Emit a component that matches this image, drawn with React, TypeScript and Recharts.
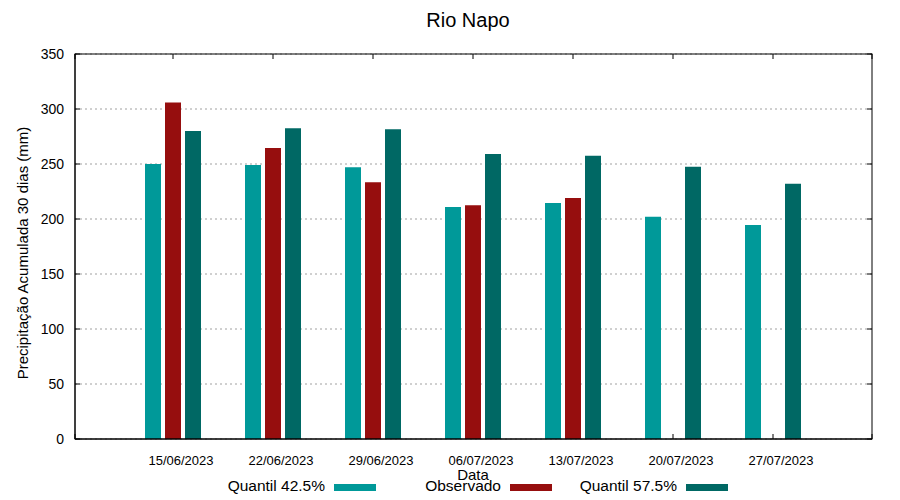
import React from "react";
import { BarChart, Bar, XAxis, YAxis, CartesianGrid } from "recharts";

const DATES = [
  "15/06/2023",
  "22/06/2023",
  "29/06/2023",
  "06/07/2023",
  "13/07/2023",
  "20/07/2023",
  "27/07/2023",
];
const QUANTIL_425 = [250, 249, 247, 211, 214.5, 202, 194.5];
const OBSERVADO = [306, 264.5, 233.5, 212.5, 219, null, null];
const QUANTIL_575 = [280, 282.5, 281.5, 259, 257.5, 247.5, 232];
const Y_TICKS = [0, 50, 100, 150, 200, 250, 300, 350];

const SERIES = [
  { key: "q425", name: "Quantil 42.5%", color: "#009999" },
  { key: "obs", name: "Observado", color: "#960e0e" },
  { key: "q575", name: "Quantil 57.5%", color: "#006864" },
];

const data = DATES.map((d, i) => ({
  date: d,
  q425: QUANTIL_425[i],
  obs: OBSERVADO[i],
  q575: QUANTIL_575[i],
}));

const FONT = "'Liberation Sans', Arial, sans-serif";

// layout, shared by the chart and the plot frame
const W = 900;
const H = 500;
const TOP = 54;
const RIGHT = 28;
const Y_AXIS_W = 75;
const X_AXIS_H = 61;

function BottomTick(props: any) {
  const { x, y, payload } = props;
  return (
    <text x={x + 8} y={y + 26} textAnchor="middle" fontSize={13} fill="#000" fontFamily={FONT}>
      {payload.value}
    </text>
  );
}

function LeftTick(props: any) {
  const { x, y, payload } = props;
  return (
    <text x={x - 11} y={y + 5} textAnchor="end" fontSize={14} fill="#000" fontFamily={FONT}>
      {payload.value}
    </text>
  );
}

// gnuplot-style inward ticks, from the grid's own line positions
const vTick = (p: any) => {
  const top = Math.min(p.y1, p.y2);
  const bottom = Math.max(p.y1, p.y2);
  return (
    <g key={p.key}>
      <line x1={p.x1} y1={top} x2={p.x1} y2={top + 5} stroke="#000" />
      <line x1={p.x1} y1={bottom} x2={p.x1} y2={bottom - 5} stroke="#000" />
    </g>
  );
};

const hTick = (p: any) => {
  const left = Math.min(p.x1, p.x2);
  const right = Math.max(p.x1, p.x2);
  return (
    <g key={p.key}>
      <line x1={left} y1={p.y1} x2={left + 5} y2={p.y1} stroke="#000" />
      <line x1={right} y1={p.y1} x2={right - 5} y2={p.y1} stroke="#000" />
    </g>
  );
};

export default function App() {
  return (
    <div style={{ position: "absolute", left: 0, top: 0, width: W, height: H, background: "#fff" }}>
      <BarChart
        width={W}
        height={H}
        data={data}
        margin={{ top: TOP, right: RIGHT, left: 0, bottom: 0 }}
        barSize={16}
        barGap={4}
      >
        <CartesianGrid horizontal vertical={false} stroke="#a0a0a0" strokeDasharray="2 3" />
        <CartesianGrid horizontal={hTick} vertical={vTick} stroke="#000" />
        <XAxis
          dataKey="date"
          height={X_AXIS_H}
          padding={{ left: 48, right: 49 }}
          tickSize={0}
          tickMargin={0}
          tickLine={false}
          axisLine={{ stroke: "#000" }}
          interval={0}
          tick={<BottomTick />}
        />
        <YAxis
          width={Y_AXIS_W}
          domain={[0, 350]}
          ticks={Y_TICKS}
          tickSize={0}
          tickMargin={0}
          tickLine={false}
          axisLine={{ stroke: "#000" }}
          interval={0}
          tick={<LeftTick />}
        />
        {SERIES.map((s) => (
          <Bar key={s.key} dataKey={s.key} name={s.name} fill={s.color} isAnimationActive={false} />
        ))}
      </BarChart>
      <svg
        width={W}
        height={H}
        style={{ position: "absolute", left: 0, top: 0, pointerEvents: "none" }}
        fontFamily={FONT}
      >
        <rect
          x={Y_AXIS_W}
          y={TOP}
          width={W - Y_AXIS_W - RIGHT}
          height={H - TOP - X_AXIS_H}
          fill="none"
          stroke="#000"
        />
        <text x={468} y={27} textAnchor="middle" fontSize={20} fill="#000">
          Rio Napo
        </text>
        <text x={473} y={480} textAnchor="middle" fontSize={15} fill="#000">
          Data
        </text>
        <text
          x={22}
          y={253}
          textAnchor="middle"
          dominantBaseline="central"
          fontSize={15}
          fill="#000"
          transform="rotate(-90 22 253)"
        >
          Precipitação Acumulada 30 dias (mm)
        </text>
        {SERIES.map((s, i) => (
          <g key={s.key}>
            <text x={325 + 176 * i} y={491} textAnchor="end" fontSize={15.5} fill="#000">
              {s.name}
            </text>
            <rect x={334 + 176 * i} y={484} width={42} height={7} fill={s.color} />
          </g>
        ))}
      </svg>
    </div>
  );
}
